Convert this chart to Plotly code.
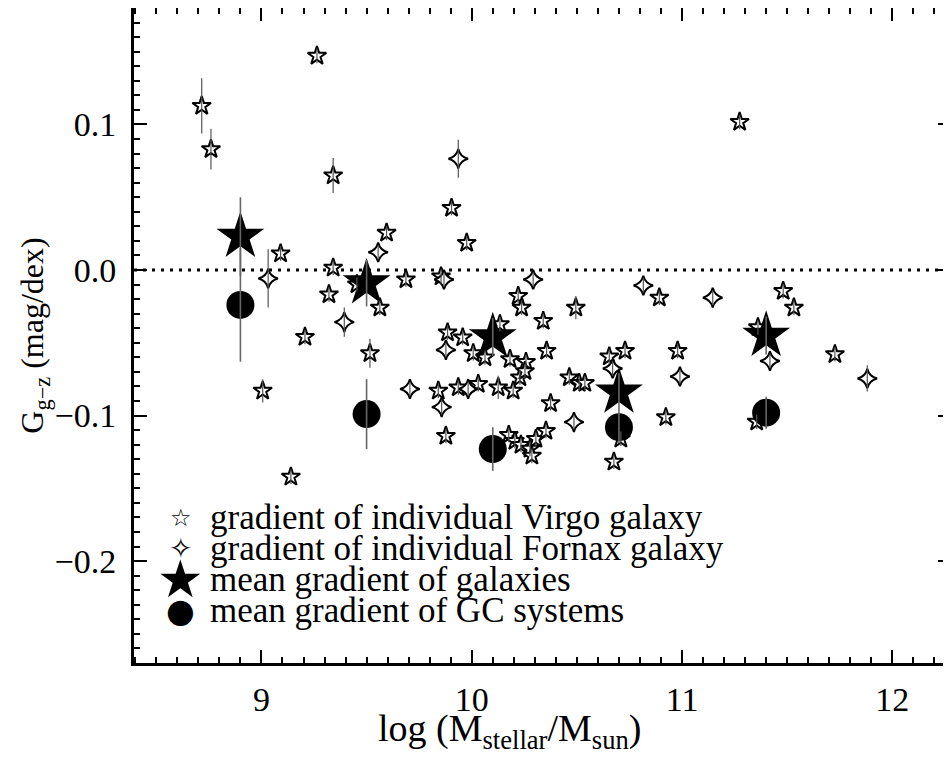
import plotly.graph_objects as go

# ---------------- data ----------------
# Individual Virgo galaxies: log Mstellar, gradient, error
virgo_x = [8.716, 8.760, 9.264, 9.341, 11.274, 9.904, 9.976, 9.091, 9.341, 9.595,
           9.687, 9.854, 9.321, 9.563, 10.221, 10.237, 10.340, 10.134, 9.207, 9.885,
           9.957, 10.007, 10.063, 10.182, 10.258, 10.356, 9.516, 10.229, 10.253, 9.841,
           9.936, 10.031, 10.126, 10.197, 9.006, 9.140, 9.454, 10.892, 11.481, 11.532,
           10.495, 10.654, 10.729, 10.979, 10.464, 10.511, 10.538, 11.727, 10.923, 11.355,
           11.361, 9.877, 10.176, 10.205, 10.234, 10.277, 10.286, 10.305, 10.353, 10.676,
           10.709, 10.375]
virgo_y = [0.1127, 0.0830, 0.1471, 0.0649, 0.1017, 0.0426, 0.0186, 0.0113, 0.0015, 0.0255,
           -0.0065, -0.0045, -0.0168, -0.0259, -0.0179, -0.0259, -0.0351, -0.0373, -0.0460, -0.0430,
           -0.0464, -0.0572, -0.0601, -0.0613, -0.0632, -0.0556, -0.0572, -0.0738, -0.0695, -0.0830,
           -0.0807, -0.0784, -0.0807, -0.0830, -0.0830, -0.1421, -0.0099, -0.0190, -0.0145, -0.0259,
           -0.0259, -0.0595, -0.0556, -0.0556, -0.0738, -0.0777, -0.0777, -0.0579, -0.1012, -0.1042,
           -0.0394, -0.1140, -0.1134, -0.1175, -0.1202, -0.1229, -0.1277, -0.1161, -0.1106, -0.1318,
           -0.1160, -0.0916]
virgo_err = [0.019, 0.014, 0.005, 0.012, 0.005, 0.005, 0.005, 0.005, 0.005, 0.005,
             0.005, 0.005, 0.005, 0.005, 0.005, 0.005, 0.005, 0.005, 0.005, 0.005,
             0.005, 0.005, 0.005, 0.005, 0.005, 0.005, 0.010, 0.005, 0.005, 0.005,
             0.005, 0.005, 0.008, 0.005, 0.008, 0.005, 0.005, 0.005, 0.005, 0.005,
             0.008, 0.005, 0.005, 0.005, 0.005, 0.005, 0.005, 0.005, 0.005, 0.005,
             0.005, 0.005, 0.005, 0.005, 0.005, 0.005, 0.005, 0.005, 0.005, 0.005,
             0.005, 0.005]

# Individual Fornax galaxies
fornax_x = [9.936, 9.032, 9.555, 9.868, 10.292, 9.394, 9.877, 9.706, 9.983, 10.816,
            11.146, 11.418, 11.881, 10.670, 10.990, 9.857, 10.486]
fornax_y = [0.0764, -0.0058, 0.0122, -0.0065, -0.0065, -0.0358, -0.0549, -0.0818, -0.0818, -0.0106,
            -0.0190, -0.0625, -0.0745, -0.0677, -0.0732, -0.0942, -0.1045]
fornax_err = [0.013, 0.020, 0.005, 0.005, 0.005, 0.010, 0.005, 0.005, 0.005, 0.005,
              0.005, 0.005, 0.009, 0.005, 0.005, 0.005, 0.005]

# Mean gradients in mass bins
mean_x = [8.9, 9.5, 10.1, 10.7, 11.4]
mean_gal_y = [0.023, -0.009, -0.046, -0.084, -0.045]
mean_gal_err = [0.027, 0.016, 0.013, 0.013, 0.013]
mean_gc_y = [-0.024, -0.099, -0.123, -0.108, -0.098]
mean_gc_err = [0.039, 0.024, 0.015, 0.011, 0.011]

legend_labels = ["gradient of individual Virgo galaxy",
                 "gradient of individual Fornax galaxy",
                 "mean gradient of galaxies",
                 "mean gradient of GC systems"]
legend_glyphs = ["\u2606", "\u2727", "\u2605", "\u25CF"]

x_title = "log (M<sub>stellar</sub>/M<sub>sun</sub>)"
y_title = "G<sub>g\u2212z</sub> (mag/dex)"

zero_level = 0.0
x_range = [8.394, 12.279]
y_range = [-0.27, 0.18]

FONT = "Liberation Serif, Times New Roman, serif"
SYMFONT = "DejaVu Sans"


def err_segments(xs, ys, es):
    sx, sy = [], []
    for x, y, e in zip(xs, ys, es):
        sx += [x, x, None]
        sy += [y - e, y + e, None]
    return sx, sy


fig = go.Figure()

fig.add_trace(go.Scatter(
    x=virgo_x, y=virgo_y, mode="markers", name=legend_labels[0],
    marker=dict(symbol="star", size=14, color="white", line=dict(color="black", width=2))))
fig.add_trace(go.Scatter(
    x=fornax_x, y=fornax_y, mode="markers", name=legend_labels[1],
    marker=dict(symbol="star-diamond", size=14, color="white", line=dict(color="black", width=2))))
fig.add_trace(go.Scatter(
    x=mean_x, y=mean_gal_y, mode="markers", name=legend_labels[2],
    marker=dict(symbol="star", size=36, color="black", line=dict(width=0))))
fig.add_trace(go.Scatter(
    x=mean_x, y=mean_gc_y, mode="markers", name=legend_labels[3],
    marker=dict(symbol="circle", size=28, color="black", line=dict(width=0))))

# error bars drawn on top (as in the original)
for xs, ys, es, w, c in [(virgo_x, virgo_y, virgo_err, 1.2, "#555555"),
                         (fornax_x, fornax_y, fornax_err, 1.2, "#555555"),
                         (mean_x, mean_gal_y, mean_gal_err, 1.6, "#666666"),
                         (mean_x, mean_gc_y, mean_gc_err, 1.6, "#666666")]:
    sx, sy = err_segments(xs, ys, es)
    fig.add_trace(go.Scatter(x=sx, y=sy, mode="lines", showlegend=False, hoverinfo="skip",
                             line=dict(color=c, width=w)))

fig.add_shape(type="line", xref="paper", x0=0, x1=1, yref="y", y0=zero_level, y1=zero_level,
              line=dict(color="black", width=3, dash="3px,6px"), layer="below")

# legend drawn as text block (tight line spacing as in the original)
leg_rows_y = [0.222, 0.175, 0.128, 0.080]
leg_sym_size = [24, 28, 52, 33]
for lab, gly, yy, gs in zip(legend_labels, legend_glyphs, leg_rows_y, leg_sym_size):
    fig.add_annotation(xref="paper", yref="paper", x=0.057, y=yy, text=gly, showarrow=False,
                       xanchor="center", yanchor="middle",
                       font=dict(family=SYMFONT, size=gs, color="black"))
    fig.add_annotation(xref="paper", yref="paper", x=0.091, y=yy, text=lab, showarrow=False,
                       xanchor="left", yanchor="middle",
                       font=dict(family=FONT, size=35, color="black"))

# x-axis title (placed slightly left of centre, as in the original)
fig.add_annotation(xref="paper", yref="paper", x=0.459, y=-0.104, text=x_title, showarrow=False,
                   xanchor="center", yanchor="middle",
                   font=dict(family=FONT, size=38, color="black"))

axis_common = dict(
    showline=True, linecolor="black", linewidth=3, mirror="ticks",
    ticks="inside", tickcolor="black", tickwidth=2, ticklen=13,
    showgrid=False, zeroline=False,
    tickfont=dict(family=FONT, size=34, color="black"),
)

fig.update_xaxes(range=x_range, tick0=9, dtick=1,
                 minor=dict(ticks="inside", dtick=0.1, ticklen=6, tickwidth=2, tickcolor="black", showgrid=False),
                 ticklabelstandoff=4,
                 **axis_common)
fig.update_yaxes(range=y_range, tick0=0, dtick=0.1, tickformat=".1f",
                 minor=dict(ticks="inside", dtick=0.01, ticklen=6, tickwidth=2, tickcolor="black", showgrid=False),
                 title=dict(text=y_title, font=dict(family=FONT, size=32, color="black"), standoff=0),
                 ticklabelstandoff=8,
                 **axis_common)

# page body has an 8px margin: size the figure so the plot frame lands where the original's does
fig.update_layout(
    width=943, height=749,
    margin=dict(l=126, r=0, t=0, b=94, autoexpand=False),
    paper_bgcolor="white", plot_bgcolor="white",
    font=dict(family=FONT, color="black"),
    showlegend=False,
)

fig.write_html("out.html")
